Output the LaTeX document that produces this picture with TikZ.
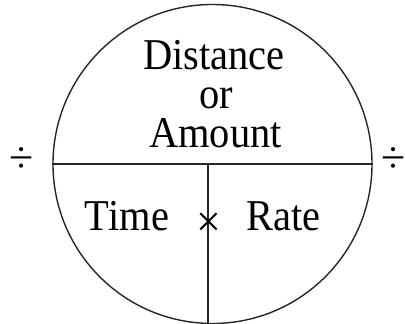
\documentclass[tikz,border=0pt]{standalone}
\usepackage{fontspec}
\setmainfont{Liberation Serif}
\begin{document}
\begin{tikzpicture}[x=1pt,y=-1pt,
  ln/.style={line width=1.4pt,black!85},
  lbl/.style={font=\fontsize{44}{48}\selectfont, anchor=base, inner sep=0pt, xscale=0.92, text height=29pt, text depth=0pt},
  sym/.style={font=\fontsize{44}{48}\selectfont, anchor=base, inner sep=0pt, text height=22pt, text depth=0pt}]
\useasboundingbox (0,0) rectangle (405,324);
\node[draw, ln, circle, minimum size=319pt, inner sep=0pt] (c) at (212.5,164) {};
\draw[ln] (c.west) -- (c.east);
\coordinate (top) at (208,164);
\coordinate (bot) at (208,323.4);
\draw[ln] (top) -- (bot);
\node[lbl] (dist) at (214,70) {Distance};
\node[lbl] (or) at (216,108) {or};
\node[lbl] (amt) at (215.5,147) {Amount};
\node[lbl] (time) at (127,230) {Time};
\node[lbl] (rate) at (283.5,230) {Rate};
\node[sym] (times) at (209,236) {×};
\node[sym] (dl) at (22,172) {÷};
\node[sym] (dr) at (394,172) {÷};
\end{tikzpicture}
\end{document}
